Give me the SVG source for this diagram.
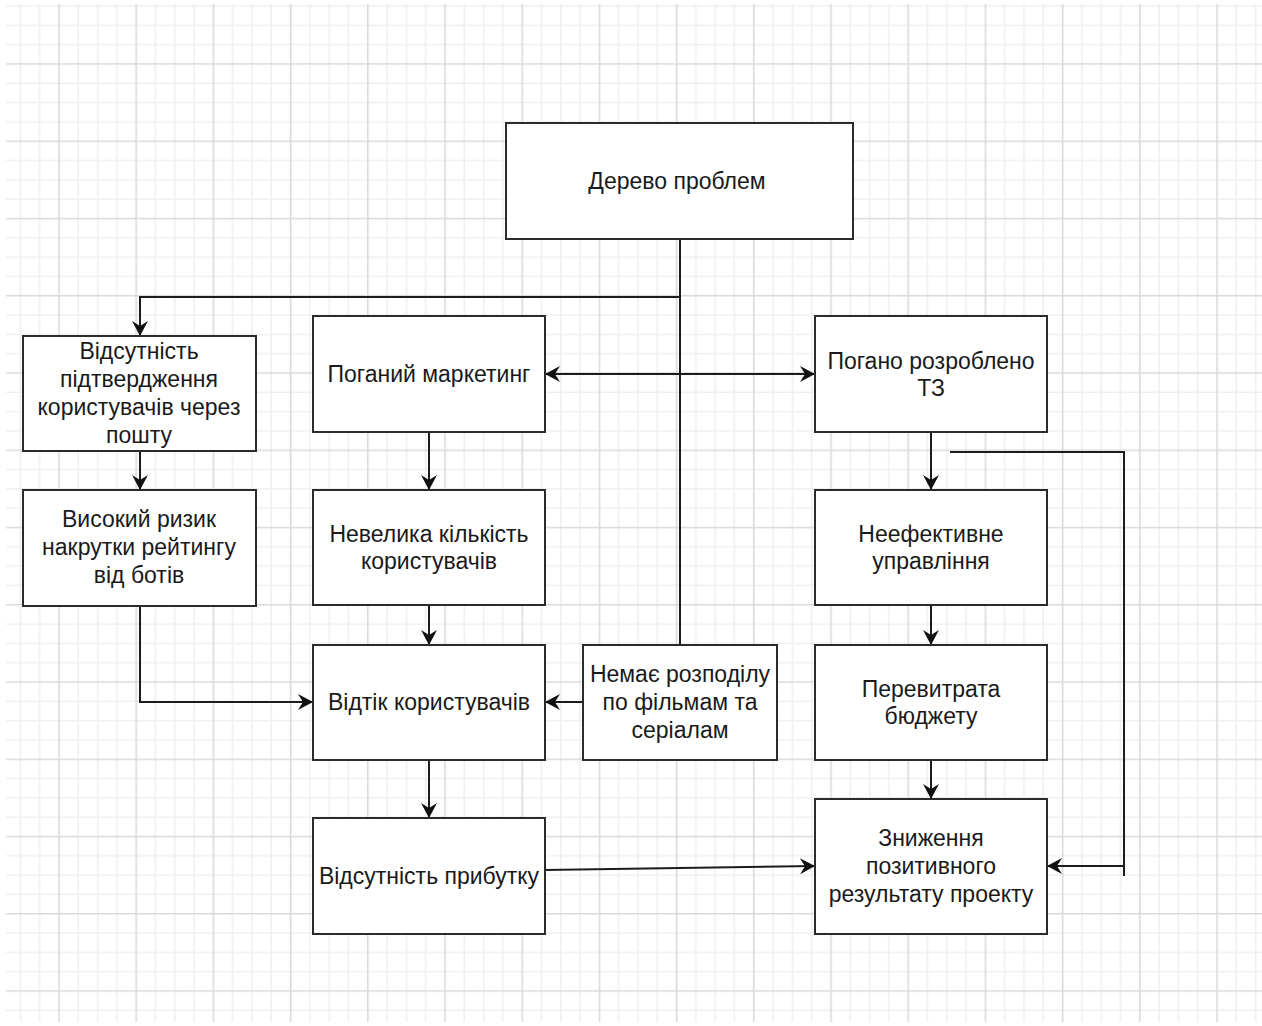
<svg xmlns="http://www.w3.org/2000/svg" width="1262" height="1026" viewBox="0 0 1262 1026">
  <style>
    .box rect { fill: #ffffff; stroke: #2b2b2b; stroke-width: 2; }
    .box text { font-family: "Liberation Sans", Arial, sans-serif; font-size: 23px; fill: #1a1a1a; text-anchor: middle; }
    .edge { fill: none; stroke: #1c1c1c; stroke-width: 2; }
    .minor { stroke: #efefef; stroke-width: 1.6; }
    .major { stroke: #dadada; stroke-width: 1.6; }
  </style>
  <defs>
    <!-- background grid: one major cell split into four minor cells -->
    <pattern id="grid" patternUnits="userSpaceOnUse" x="10.75" y="15.72" width="77.2" height="77.25">
      <line class="minor" x1="9.65" y1="0" x2="9.65" y2="77.25"/>
      <line class="minor" x1="28.95" y1="0" x2="28.95" y2="77.25"/>
      <line class="minor" x1="67.55" y1="0" x2="67.55" y2="77.25"/>
      <line class="minor" x1="0" y1="9.66" x2="77.2" y2="9.66"/>
      <line class="minor" x1="0" y1="28.97" x2="77.2" y2="28.97"/>
      <line class="minor" x1="0" y1="67.6" x2="77.2" y2="67.6"/>
      <line class="major" x1="48.25" y1="0" x2="48.25" y2="77.25"/>
      <line class="major" x1="0" y1="48.28" x2="77.2" y2="48.28"/>
    </pattern>
    <marker id="arrow" markerUnits="userSpaceOnUse" viewBox="-16 -9 17 18" refX="0" refY="0" markerWidth="17" markerHeight="18" orient="auto-start-reverse">
      <path d="M0,0 L-15,-8 L-10,0 L-15,8 Z" fill="#111111"/>
    </marker>
  </defs>

  <rect x="0" y="0" width="1262" height="1026" fill="#ffffff"/>
  <rect x="6" y="4" width="1256" height="1018" fill="url(#grid)"/>

  <g id="connectors">
    <path class="edge" d="M680,239 V645"/>
    <path class="edge" d="M680,297 H140 V336" marker-end="url(#arrow)"/>
    <path class="edge" d="M545,374 H815" marker-start="url(#arrow)" marker-end="url(#arrow)"/>
    <path class="edge" d="M140,451 V490" marker-end="url(#arrow)"/>
    <path class="edge" d="M140,606 V702 H313" marker-end="url(#arrow)"/>
    <path class="edge" d="M429,432 V490" marker-end="url(#arrow)"/>
    <path class="edge" d="M429,605 V645" marker-end="url(#arrow)"/>
    <path class="edge" d="M583,702 H545" marker-end="url(#arrow)"/>
    <path class="edge" d="M429,760 V818" marker-end="url(#arrow)"/>
    <path class="edge" d="M545,870 L815,866" marker-end="url(#arrow)"/>
    <path class="edge" d="M931,432 V490" marker-end="url(#arrow)"/>
    <path class="edge" d="M931,605 V645" marker-end="url(#arrow)"/>
    <path class="edge" d="M931,760 V799" marker-end="url(#arrow)"/>
    <path class="edge" d="M950,452 H1124 V876 M1124,866 H1047" marker-end="url(#arrow)"/>
  </g>

  <g id="problem-tree" class="box">
    <rect x="506" y="123" width="347" height="116"/>
    <text x="677" y="189">Дерево проблем</text>
  </g>

  <g id="no-email-confirmation" class="box">
    <rect x="23" y="336" width="233" height="115"/>
    <text x="139" y="359">Відсутність</text>
    <text x="139" y="387">підтвердження</text>
    <text x="139" y="415">користувачів через</text>
    <text x="139" y="443">пошту</text>
  </g>

  <g id="bot-rating-risk" class="box">
    <rect x="23" y="490" width="233" height="116"/>
    <text x="139" y="527">Високий ризик</text>
    <text x="139" y="555">накрутки рейтингу</text>
    <text x="139" y="583">від ботів</text>
  </g>

  <g id="poor-marketing" class="box">
    <rect x="313" y="316" width="232" height="116"/>
    <text x="429" y="382">Поганий маркетинг</text>
  </g>

  <g id="few-users" class="box">
    <rect x="313" y="490" width="232" height="115"/>
    <text x="429" y="542">Невелика кількість</text>
    <text x="429" y="569">користувачів</text>
  </g>

  <g id="user-churn" class="box">
    <rect x="313" y="645" width="232" height="115"/>
    <text x="429" y="710">Відтік користувачів</text>
  </g>

  <g id="no-profit" class="box">
    <rect x="313" y="818" width="232" height="116"/>
    <text x="429" y="884">Відсутність прибутку</text>
  </g>

  <g id="no-film-series-split" class="box">
    <rect x="583" y="645" width="194" height="115"/>
    <text x="680" y="682">Немає розподілу</text>
    <text x="680" y="710">по фільмам та</text>
    <text x="680" y="738">серіалам</text>
  </g>

  <g id="poor-spec" class="box">
    <rect x="815" y="316" width="232" height="116"/>
    <text x="931" y="369">Погано розроблено</text>
    <text x="931" y="396">ТЗ</text>
  </g>

  <g id="poor-management" class="box">
    <rect x="815" y="490" width="232" height="115"/>
    <text x="931" y="542">Неефективне</text>
    <text x="931" y="569">управління</text>
  </g>

  <g id="budget-overrun" class="box">
    <rect x="815" y="645" width="232" height="115"/>
    <text x="931" y="697">Перевитрата</text>
    <text x="931" y="724">бюджету</text>
  </g>

  <g id="lower-project-result" class="box">
    <rect x="815" y="799" width="232" height="135"/>
    <text x="931" y="846">Зниження</text>
    <text x="931" y="874">позитивного</text>
    <text x="931" y="902">результату проекту</text>
  </g>
</svg>
